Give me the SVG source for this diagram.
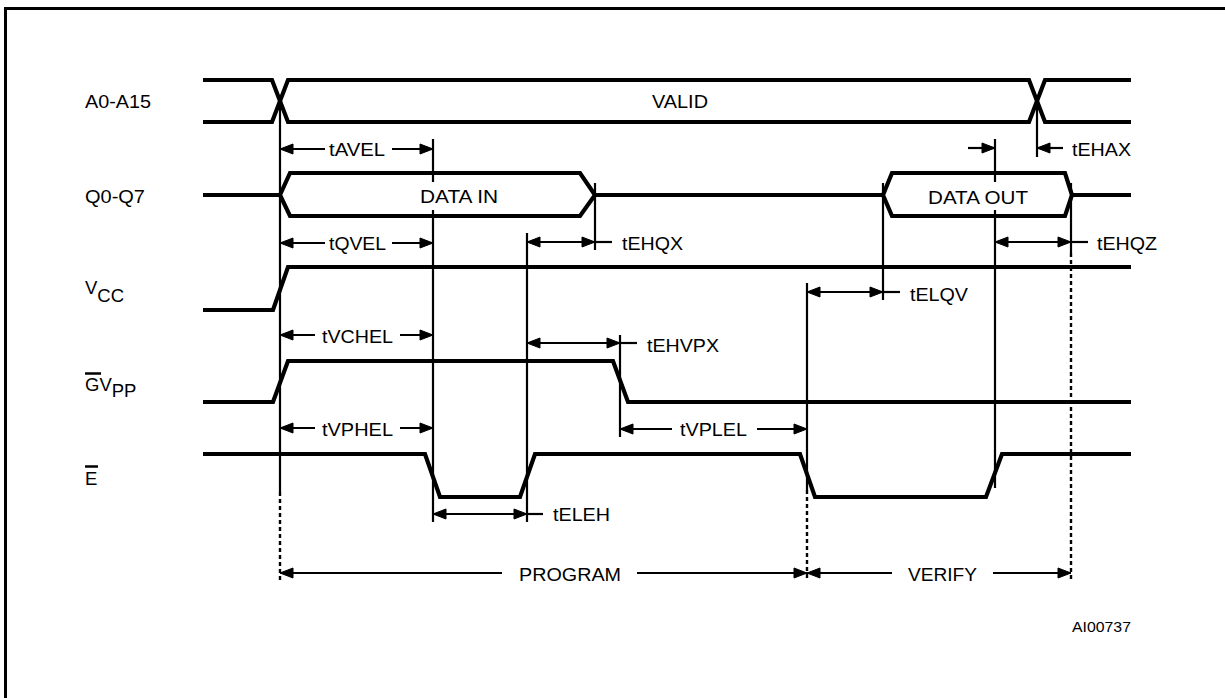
<svg xmlns="http://www.w3.org/2000/svg" width="1225" height="698" viewBox="0 0 1225 698">
<style>
text{font-family:"Liberation Sans",Arial,Helvetica,sans-serif;font-size:18.5px;fill:#000}
.sig{fill:none;stroke:#000;stroke-width:4.2;stroke-linejoin:miter}
.v{stroke:#000;stroke-width:2.2;fill:none}
.dot{stroke:#000;stroke-width:2.4;stroke-dasharray:4 3;fill:none}
.dim{stroke:#000;stroke-width:2.2;fill:none;marker-end:url(#ah)}
.dim2{stroke:#000;stroke-width:2.2;fill:none;marker-start:url(#ah);marker-end:url(#ah)}
.bar{stroke:#000;stroke-width:2.5}
</style>
<defs>
<marker id="ah" markerUnits="userSpaceOnUse" markerWidth="16" markerHeight="13" refX="14" refY="6" orient="auto-start-reverse">
<path d="M1,1 L14,6 L1,11 Z" fill="#000" stroke="#000" stroke-width="1" stroke-linejoin="miter"/>
</marker>
</defs>
<rect width="1225" height="698" fill="#fff"/>
<path d="M5.5,698 V8.5 H1225" fill="none" stroke="#000" stroke-width="3"/>

<g id="labels">
<text x="85" y="108" textLength="66" lengthAdjust="spacingAndGlyphs">A0-A15</text>
<text x="85" y="203" textLength="60" lengthAdjust="spacingAndGlyphs">Q0-Q7</text>
<text x="85" y="294">V<tspan dy="8">CC</tspan></text>
<g id="gvpp-label"><line class="bar" x1="85" y1="373.5" x2="101" y2="373.5"/><text x="85" y="391">GV<tspan dy="6">PP</tspan></text></g>
<g id="e-label"><line class="bar" x1="85" y1="466.5" x2="98" y2="466.5"/><text x="85" y="485">E</text></g>
</g>

<g id="signal-a">
<path class="sig" d="M203,80 H272 L288,122 H1029 L1045,80 H1131"/>
<path class="sig" d="M203,122 H272 L288,80 H1029 L1045,122 H1131"/>
<text x="652" y="108" textLength="56" lengthAdjust="spacingAndGlyphs">VALID</text>
</g>

<g id="signal-q">
<path class="sig" d="M203,195 H280"/>
<path class="sig" d="M280,195 L290,173 H580 L595,195 L580,216 H290 Z"/>
<path class="sig" d="M595,195 H883"/>
<path class="sig" d="M883,195 L892,173 H1065 L1072,195 L1065,216 H892 Z"/>
<path class="sig" d="M1072,195 H1131"/>
<text x="420" y="203" textLength="78" lengthAdjust="spacingAndGlyphs">DATA IN</text>
<text x="928" y="204" textLength="100" lengthAdjust="spacingAndGlyphs">DATA OUT</text>
</g>

<g id="signal-vcc">
<path class="sig" d="M203,310 H273 L288,267 H1131"/>
</g>

<g id="signal-gvpp">
<path class="sig" d="M203,402 H273 L288,361 H613 L628,402 H1131"/>
</g>

<g id="signal-e">
<path class="sig" d="M203,454 H425 L440,497 H520 L535,454 H800 L815,497 H986 L1002,454 H1131"/>
</g>

<g id="connectors">
<line class="v" x1="280" y1="101" x2="280" y2="492"/>
<line class="dot" x1="280" y1="492" x2="280" y2="581"/>
<line class="v" x1="433" y1="139" x2="433" y2="182"/>
<line class="v" x1="433" y1="210" x2="433" y2="522"/>
<line class="v" x1="527" y1="233" x2="527" y2="522"/>
<line class="v" x1="595" y1="183" x2="595" y2="250"/>
<line class="v" x1="620" y1="335" x2="620" y2="437"/>
<line class="v" x1="807" y1="283" x2="807" y2="490"/>
<line class="dot" x1="807" y1="490" x2="807" y2="581"/>
<line class="v" x1="883" y1="183" x2="883" y2="300"/>
<line class="v" x1="995" y1="139" x2="995" y2="182"/>
<line class="v" x1="995" y1="210" x2="995" y2="488"/>
<line class="v" x1="1037" y1="101" x2="1037" y2="157"/>
<line class="v" x1="1071" y1="183" x2="1071" y2="253"/>
<line class="dot" x1="1071" y1="253" x2="1071" y2="581"/>

<line class="dim" x1="325" y1="149" x2="280" y2="149"/>
<line class="dim" x1="392" y1="149" x2="433" y2="149"/>
<line class="dim" x1="325" y1="243" x2="280" y2="243"/>
<line class="dim" x1="392" y1="243" x2="433" y2="243"/>
<line class="dim" x1="315" y1="335" x2="280" y2="335"/>
<line class="dim" x1="400" y1="335" x2="433" y2="335"/>
<line class="dim" x1="315" y1="428" x2="280" y2="428"/>
<line class="dim" x1="400" y1="428" x2="433" y2="428"/>
<line class="dim" x1="968" y1="148" x2="995" y2="148"/>
<line class="dim" x1="1063" y1="148" x2="1037" y2="148"/>
<line class="dim2" x1="527" y1="242" x2="595" y2="242"/>
<line class="v" x1="595" y1="242" x2="612" y2="242"/>
<line class="dim2" x1="995" y1="242" x2="1071" y2="242"/>
<line class="v" x1="1071" y1="242" x2="1088" y2="242"/>
<line class="dim2" x1="807" y1="292" x2="883" y2="292"/>
<line class="v" x1="883" y1="292" x2="900" y2="292"/>
<line class="dim2" x1="527" y1="343" x2="620" y2="343"/>
<line class="v" x1="620" y1="343" x2="637" y2="343"/>
<line class="dim" x1="672" y1="429" x2="620" y2="429"/>
<line class="dim" x1="757" y1="429" x2="807" y2="429"/>
<line class="dim2" x1="433" y1="514" x2="527" y2="514"/>
<line class="v" x1="527" y1="514" x2="543" y2="514"/>
<line class="dim" x1="502" y1="573" x2="280" y2="573"/>
<line class="dim" x1="637" y1="573" x2="807" y2="573"/>
<line class="dim" x1="892" y1="573" x2="807" y2="573"/>
<line class="dim" x1="993" y1="573" x2="1071" y2="573"/>
</g>

<g id="timing-labels">
<text x="329" y="156" textLength="56" lengthAdjust="spacingAndGlyphs">tAVEL</text>
<text x="329" y="250" textLength="57" lengthAdjust="spacingAndGlyphs">tQVEL</text>
<text x="322" y="343" textLength="71" lengthAdjust="spacingAndGlyphs">tVCHEL</text>
<text x="322" y="436" textLength="71" lengthAdjust="spacingAndGlyphs">tVPHEL</text>
<text x="1072" y="156" textLength="59" lengthAdjust="spacingAndGlyphs">tEHAX</text>
<text x="622" y="250" textLength="61" lengthAdjust="spacingAndGlyphs">tEHQX</text>
<text x="1097" y="250" textLength="60" lengthAdjust="spacingAndGlyphs">tEHQZ</text>
<text x="910" y="301" textLength="58" lengthAdjust="spacingAndGlyphs">tELQV</text>
<text x="647" y="352" textLength="72" lengthAdjust="spacingAndGlyphs">tEHVPX</text>
<text x="680" y="436" textLength="67" lengthAdjust="spacingAndGlyphs">tVPLEL</text>
<text x="553" y="521" textLength="57" lengthAdjust="spacingAndGlyphs">tELEH</text>
<text x="519" y="581" textLength="102" lengthAdjust="spacingAndGlyphs">PROGRAM</text>
<text x="908" y="581" textLength="69" lengthAdjust="spacingAndGlyphs">VERIFY</text>
<text x="1072" y="632" textLength="59" lengthAdjust="spacingAndGlyphs" style="font-size:14px">AI00737</text>
</g>
</svg>
